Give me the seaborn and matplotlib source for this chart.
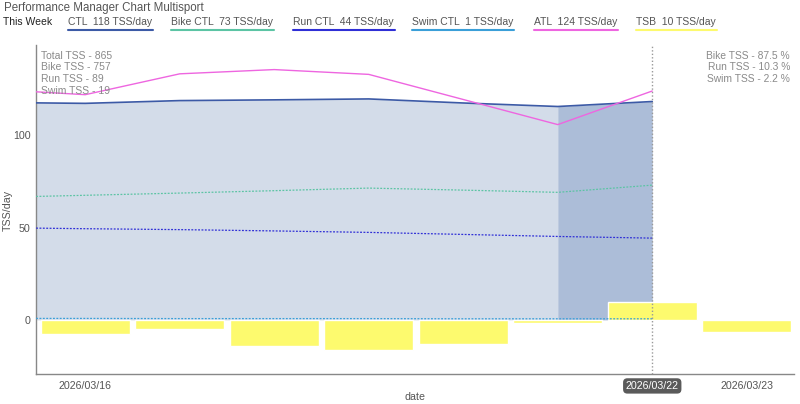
import pandas as pd
import seaborn as sns
import matplotlib.pyplot as plt
import matplotlib.dates as mdates

# ---- data ----
line_dates = pd.date_range('2026-03-15', '2026-03-22', freq='D')
ctl = [117.8, 117.3, 118.8, 119.2, 119.7, 117.5, 115.6, 118.3]
bike_ctl = [66.3, 67.5, 68.7, 70.0, 71.4, 70.3, 69.1, 73.0]
run_ctl = [50.0, 49.4, 48.9, 48.2, 47.4, 46.3, 45.2, 44.3]
swim_ctl = [0.8, 0.8, 0.7, 0.7, 0.7, 0.6, 0.6, 0.6]
atl = [125.0, 122.0, 133.3, 135.6, 133.0, 119.4, 105.8, 124.0]

tsb_dates = pd.date_range('2026-03-16', '2026-03-23', freq='D')
tsb = [-7.8, -4.9, -13.9, -16.1, -13.0, -1.5, 9.8, -6.3]

legend_labels = ['CTL  118 TSS/day', 'Bike CTL  73 TSS/day', 'Run CTL  44 TSS/day',
                 'Swim CTL  1 TSS/day', 'ATL  124 TSS/day', 'TSB  10 TSS/day']
left_notes = ['Total TSS - 865', 'Bike TSS - 757', 'Run TSS - 89', 'Swim TSS - 19']
right_notes = ['Bike TSS - 87.5 %', 'Run TSS - 10.3 %', 'Swim TSS - 2.2 %']
tick_dates = pd.to_datetime(['2026-03-16', '2026-03-22', '2026-03-23'])
today = pd.Timestamp('2026-03-22')

# colours
c_ctl = '#3c5aa6'
c_bike = '#5cc4a4'
c_run = '#2f2fd6'
c_swim = '#3a9fd8'
c_atl = '#ee66e0'
c_tsb = '#fdfa6e'
legend_colors = [c_ctl, c_bike, c_run, c_swim, c_atl, c_tsb]

sns.set_style('white')
plt.rcParams['font.family'] = ['Liberation Sans', 'DejaVu Sans']

df = pd.DataFrame({'date': line_dates, 'ctl': ctl, 'bike': bike_ctl,
                   'run': run_ctl, 'swim': swim_ctl, 'atl': atl})

fig = plt.figure(figsize=(8, 4.04), dpi=100)
ax = fig.add_axes([0.045, 0.0743, 0.9475, 0.8147])

# CTL area: past days light, last day darker
past = df[df['date'] <= pd.Timestamp('2026-03-21')]
last = df[df['date'] >= pd.Timestamp('2026-03-21')]
ax.fill_between(past['date'], 0, past['ctl'], color='#d3dce9', lw=0, zorder=1)
ax.fill_between(last['date'], 0, last['ctl'], color='#acbdd8', lw=0, zorder=1)

# TSB bars
ax.bar(tsb_dates, tsb, width=0.945, color=c_tsb, zorder=2)

dash = (0, (1.5, 1.2))
sns.lineplot(data=df, x='date', y='swim', ax=ax, color=c_swim, lw=0.9,
             linestyle=dash, zorder=3)
sns.lineplot(data=df, x='date', y='run', ax=ax, color=c_run, lw=0.9,
             linestyle=dash, zorder=3)
sns.lineplot(data=df, x='date', y='bike', ax=ax, color=c_bike, lw=0.9,
             linestyle=dash, zorder=3)
sns.lineplot(data=df, x='date', y='ctl', ax=ax, color=c_ctl, lw=1.2, zorder=4)
sns.lineplot(data=df, x='date', y='atl', ax=ax, color=c_atl, lw=1, zorder=4)

ax.axvline(today, color='#999999', lw=1, linestyle=(0, (1, 1.5)), zorder=5)

ax.set_xlim(pd.Timestamp('2026-03-16') - pd.Timedelta(hours=12.5),
            pd.Timestamp('2026-03-23') + pd.Timedelta(hours=12))
ax.set_ylim(-29.3, 149)
ax.set_yticks([0, 50, 100])
ax.set_xticks(tick_dates)
ax.xaxis.set_major_formatter(mdates.DateFormatter('%Y/%m/%d'))

for s in ['top', 'right']:
    ax.spines[s].set_visible(False)
for s in ['left', 'bottom']:
    ax.spines[s].set_color('#888888')
    ax.spines[s].set_linewidth(1)
ax.tick_params(axis='both', colors='#888888', labelcolor='#555555',
               labelsize=7.7, length=3, width=1, direction='out', pad=1)
ax.tick_params(axis='x', pad=2)

for lab, d in zip(ax.get_xticklabels(), tick_dates):
    if d == today:
        lab.set_color('white')
        lab.set_bbox(dict(boxstyle='round,pad=0.25,rounding_size=0.4',
                          fc='#5a5a5a', ec='none'))

ax.set_xlabel('date', fontsize=7.7, color='#555555')
ax.set_ylabel('TSS/day', fontsize=7.7, color='#555555')
ax.xaxis.set_label_coords(415 / 800, 1 - 397 / 404, transform=fig.transFigure)
ax.yaxis.set_label_coords(8 / 800, 1 - 210 / 404, transform=fig.transFigure)
ax.xaxis.label.set_va('center')
ax.yaxis.label.set_va('center')

# notes inside the plot
for i, t in enumerate(left_notes):
    ax.text(41 / 800, 1 - (56 + i * 11.5) / 404, t, transform=fig.transFigure,
            fontsize=7.5, color='#8a8a8a', va='center', ha='left', zorder=6)
for i, t in enumerate(right_notes):
    ax.text(790 / 800, 1 - (56 + i * 11.5) / 404, t, transform=fig.transFigure,
            fontsize=7.4, color='#8a8a8a', va='center', ha='right', zorder=6)

# title and legend row
fig.text(4 / 800, 1 - 8 / 404, 'Performance Manager Chart Multisport',
         fontsize=8.3, color='#555555', va='center', ha='left')
fig.text(3 / 800, 1 - 22 / 404, 'This Week', fontsize=7.5, color='#222222',
         va='center', ha='left')
legend_x = [68, 171, 293, 412, 534, 636]
renderer = fig.canvas.get_renderer()
for x, lab, col in zip(legend_x, legend_labels, legend_colors):
    t = fig.text(x / 800, 1 - 22 / 404, lab, fontsize=7.5, color='#555555',
                 va='center', ha='left')
    bb = t.get_window_extent(renderer=renderer)
    w = bb.width / fig.bbox.width
    fig.add_artist(plt.Line2D([x / 800, x / 800 + w + 1 / 800],
                              [1 - 30 / 404, 1 - 30 / 404],
                              color=col, lw=1.5, transform=fig.transFigure))

fig.savefig('out.png', dpi=100)
